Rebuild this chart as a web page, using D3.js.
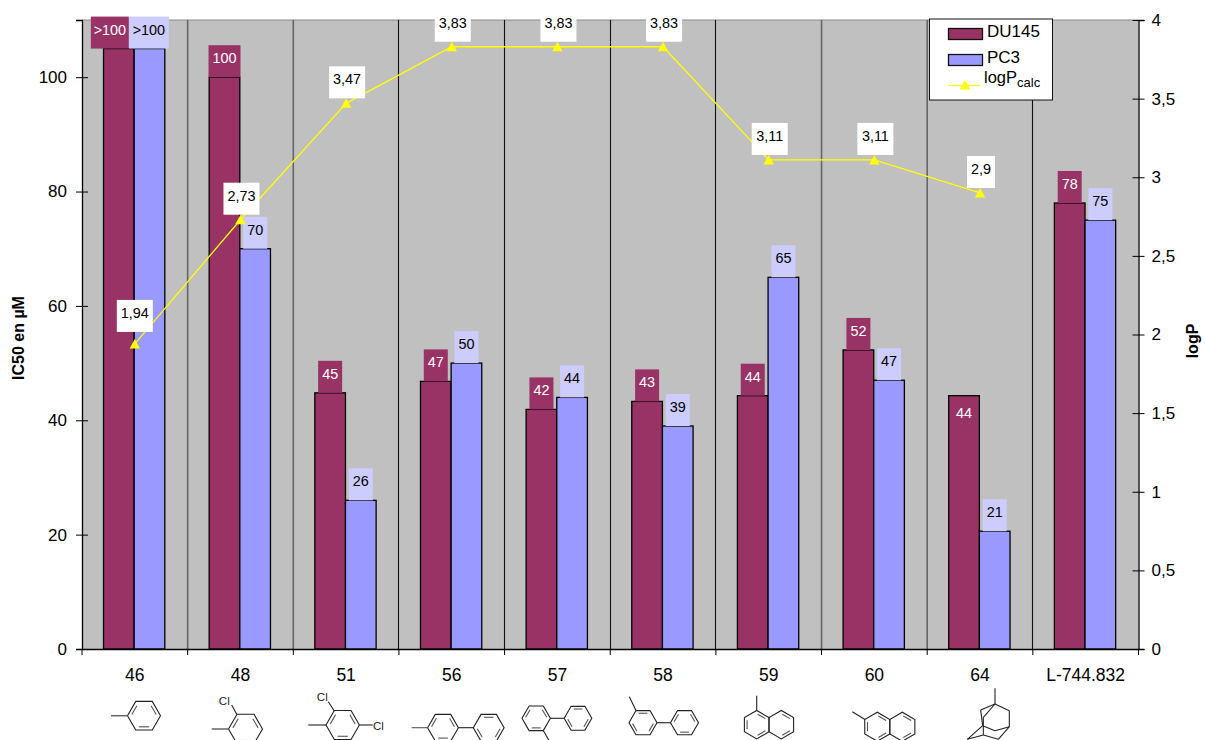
<!DOCTYPE html>
<html><head><meta charset="utf-8">
<script src="https://cdn.jsdelivr.net/npm/d3@7"></script>
<style>html,body{margin:0;padding:0;background:#fff}svg{display:block}text{font-family:"Liberation Sans",Arial,sans-serif}</style>
</head><body><svg id="c" width="1205" height="740"></svg>
<script>
const categories=["46","48","51","56","57","58","59","60","64","L-744.832"];
const seriesNames=["DU145","PC3"];
const du145=[105,100,44.8,46.8,41.9,43.3,44.3,52.3,44.3,78];
const pc3=[105,70,26,50,44,39,65,47,20.6,75];
const du145Labels=[">100","100","45","47","42","43","44","52","44","78"];
const pc3Labels=[">100","70","26","50","44","39","65","47","21","75"];
const logP=[1.94,2.73,3.47,3.83,3.83,3.83,3.11,3.11,2.9];
const logPLabels=["1,94","2,73","3,47","3,83","3,83","3,83","3,11","3,11","2,9"];
const leftTicks=[0,20,40,60,80,100];
const rightTicks=[0,0.5,1,1.5,2,2.5,3,3.5,4];

const M={l:82,r:1138.5,t:20,b:649};
const COL={du:"#993366",duBox:"#993366",pc:"#9999ff",pcBox:"#ccccff",plot:"#c0c0c0",line:"#ffff00"};
const svg=d3.select("#c");
const x=d3.scaleBand().domain(categories).range([M.l,M.r]);
const yL=d3.scaleLinear().domain([0,110]).range([M.b,M.t]);
const yR=d3.scaleLinear().domain([0,4]).range([M.b,M.t]);
const sub=d3.scaleBand().domain(seriesNames).range([x.bandwidth()/2-31.3,x.bandwidth()/2+30]);
const BW=sub.bandwidth();
const cx=c=>x(c)+x.bandwidth()/2;

svg.append("rect").attr("x",M.l).attr("y",M.t).attr("width",M.r-M.l).attr("height",M.b-M.t).attr("fill",COL.plot);
svg.append("line").attr("x1",M.l).attr("x2",M.r).attr("y1",M.t).attr("y2",M.t).attr("stroke","#8c8c8c").attr("stroke-width",1.2);

// vertical gridlines at category borders
const darkGrid=new Set(["56","57","58","59","L-744.832"]);
categories.slice(1).forEach(c=>{
  const d=darkGrid.has(c);
  const xp=d?Math.floor(x(c))+0.5:x(c);
  svg.append("line").attr("x1",xp).attr("x2",xp).attr("y1",M.t).attr("y2",M.b)
    .attr("stroke",d?"#111":"#666").attr("stroke-width",d?1.1:1.6);
});

// bars
const rows=categories.map((c,i)=>({c,i,du:du145[i],pc:pc3[i]}));
const barG=svg.append("g");
barG.selectAll("rect.du").data(rows).join("rect").attr("class","du")
  .attr("x",d=>x(d.c)+sub("DU145")).attr("width",BW).attr("y",d=>yL(d.du)).attr("height",d=>yL(0)-yL(d.du))
  .attr("fill",COL.du).attr("stroke","#000").attr("stroke-width",1.3);
barG.selectAll("rect.pc").data(rows).join("rect").attr("class","pc")
  .attr("x",d=>x(d.c)+sub("PC3")).attr("width",BW).attr("y",d=>yL(d.pc)).attr("height",d=>yL(0)-yL(d.pc))
  .attr("fill",COL.pc).attr("stroke","#000").attr("stroke-width",1.3);

// value label boxes
function valueLabel(cxp,top,txt,box,fg,w){
  const h=32;
  svg.append("rect").attr("x",cxp-w/2).attr("y",top-h).attr("width",w).attr("height",h).attr("fill",box);
  svg.append("text").attr("x",cxp).attr("y",top-h/2+2).attr("text-anchor","middle").attr("font-size",14.4).attr("fill",fg).text(txt);
}
const boxW=t=>t.length>=4?38:t.length==3?32:24;
categories.forEach((c,i)=>{
  const xd=x(c)+sub("DU145")+BW/2, xp=x(c)+sub("PC3")+BW/2;
  const duShift=i==0?-9:0, duDrop=i==8?36:0;
  valueLabel(xd+duShift,yL(du145[i])+duDrop,du145Labels[i],COL.duBox,"#fff",boxW(du145Labels[i]));
  valueLabel(xp-(i==0?0.6:0),yL(pc3[i]),pc3Labels[i],COL.pcBox,"#000",boxW(pc3Labels[i])+(i==0?2:0));
});

// logP line
const line=d3.line().x((d,i)=>cx(categories[i])).y(d=>yR(d));
svg.append("path").attr("d",line(logP)).attr("fill","none").attr("stroke",COL.line).attr("stroke-width",1.3);
const tri=(px,py)=>`M${px},${py-5}L${px+5.2},${py+4.5}L${px-5.2},${py+4.5}Z`;
logP.forEach((v,i)=>svg.append("path").attr("d",tri(cx(categories[i]),yR(v))).attr("fill",COL.line));
const logGap=[12,5,5,5,5,5,5,5,5];
const logShift=[0,1,1,1,1,1,1,1,1];
logP.forEach((v,i)=>{
  const t=logPLabels[i],w=t.length==3?28:36,h=32,px=cx(categories[i])+logShift[i];
  const bottom=yR(v)-logGap[i];
  svg.append("rect").attr("x",px-w/2).attr("y",bottom-h).attr("width",w).attr("height",h).attr("fill","#fff");
  svg.append("text").attr("x",px).attr("y",bottom-h/2+2).attr("text-anchor","middle").attr("font-size",14.4).attr("fill","#000").text(t);
});

// axes
const comma=v=>String(v).replace(".",",");
const gL=svg.append("g").attr("transform",`translate(${M.l},0)`).call(d3.axisLeft(yL).tickValues(leftTicks).tickSize(6).tickPadding(8));
const gR=svg.append("g").attr("transform",`translate(${M.r},0)`).call(d3.axisRight(yR).tickValues(rightTicks).tickFormat(comma).tickSize(6).tickPadding(7));
const gB=svg.append("g").attr("transform",`translate(0,${M.b})`).call(d3.axisBottom(x).tickValues([]).tickSize(0));
[gL,gR,gB].forEach(g=>{
  g.select(".domain").attr("stroke","#000").attr("stroke-width",1.3);
  g.selectAll("text").attr("font-size",17).attr("fill","#000").style("font-family",'"Liberation Sans",Arial,sans-serif');
  g.selectAll(".tick line").attr("stroke","#000").attr("stroke-width",1);
});
gL.selectAll(".tick line").attr("x1",-6).attr("x2",6);
gR.selectAll(".tick line").attr("x1",-6).attr("x2",6);
gL.selectAll(".tick text").attr("x",-15);
gR.selectAll(".tick text").attr("x",13);
categories.forEach((c,i)=>{
  const b=x(c);
  gB.append("line").attr("x1",b).attr("x2",b).attr("y1",0).attr("y2",6).attr("stroke","#000");
  gB.append("text").attr("x",cx(c)).attr("y",31.5).attr("text-anchor","middle").attr("font-size",17.5).attr("fill","#000").text(c);
});
gB.append("line").attr("x1",M.r).attr("x2",M.r).attr("y1",0).attr("y2",6).attr("stroke","#000");

svg.append("text").attr("transform","translate(24,338) rotate(-90)").attr("text-anchor","middle").attr("font-size",16).attr("font-weight","bold").text("IC50 en µM");
svg.append("text").attr("transform","translate(1198,341) rotate(-90)").attr("text-anchor","middle").attr("font-size",16).attr("font-weight","bold").text("logP");

// legend
const lg=svg.append("g");
lg.append("rect").attr("x",929.5).attr("y",19).attr("width",123).attr("height",81).attr("fill","#fff").attr("stroke","#111").attr("stroke-width",1);
[[COL.du,28,"DU145",37],[COL.pc,54,"PC3",63]].forEach(([f,y,t,ty])=>{
  lg.append("rect").attr("x",948.5).attr("y",y+.5).attr("width",34).attr("height",11).attr("fill",f).attr("stroke","#111").attr("stroke-width",1.3);
  lg.append("text").attr("x",987).attr("y",ty).attr("font-size",17).text(t);
});
lg.append("line").attr("x1",948).attr("x2",980).attr("y1",85.5).attr("y2",85.5).attr("stroke",COL.line).attr("stroke-width",1.2);
lg.append("path").attr("d",tri(965,85)).attr("fill",COL.line);
const lt=lg.append("text").attr("x",984).attr("y",83).attr("font-size",16.5);
lt.append("tspan").text("logP");
lt.append("tspan").attr("font-size",13).attr("dy",4).text("calc");

// chemical structures
const mol=svg.append("g").attr("fill","none").attr("stroke","#222").attr("stroke-width",1.1);
const seg=(a,b,c,d)=>mol.append("line").attr("x1",a).attr("y1",b).attr("x2",c).attr("y2",d);
function ring(cxp,cyp,r,dbl,rot=0){
  const v=d3.range(6).map(i=>{const t=(rot+i*60)*Math.PI/180;return [cxp+r*Math.cos(t),cyp+r*Math.sin(t)];});
  mol.append("path").attr("d",d3.line()(v)+"Z");
  dbl.forEach(e=>{
    const a=v[e],b=v[(e+1)%6],k=0.78;
    const p=q=>[cxp+(q[0]-cxp)*k,cyp+(q[1]-cyp)*k];
    const A=p(a),B=p(b);
    const ax=A[0]+(B[0]-A[0])*.1,ay=A[1]+(B[1]-A[1])*.1,bx=B[0]-(B[0]-A[0])*.1,by=B[1]-(B[1]-A[1])*.1;
    seg(ax,ay,bx,by).attr("stroke","#555");
  });
}
const cl=(px,py)=>svg.append("text").attr("x",px).attr("y",py).attr("text-anchor","middle").attr("font-size",11.5).attr("fill","#222").text("Cl");
// 46
ring(144,715.7,16.5,[3,1,5]); seg(111,715.7,127.5,715.7).attr("stroke","#666").attr("stroke-width",1.5);
// 48
ring(245.5,729,17,[3,1,5]); seg(211.7,729,228.5,729).attr("stroke","#666").attr("stroke-width",1.5); seg(236.7,714.3,231.7,705); cl(224.3,704.5);
// 51
ring(342.7,725,16.7,[3,1,5]); seg(308.3,725,326,725); seg(334.3,711,328.3,701.7); seg(359.4,725,372.7,725); cl(322.3,701); cl(378.5,730);
// 56
ring(443,727.7,15.4,[3,5,1]); seg(411.7,727.7,427.6,727.7).attr("stroke","#555"); seg(458.4,727.7,473.3,727.7); ring(488.7,727.7,15.4,[4,0,2]);
// 57
ring(536.2,718.3,14.2,[1,3,5]); ring(578,718.3,13.8,[4,0,2]); seg(550.4,718.3,564.2,718.3); seg(543.3,730.6,549,740.5);
// 58
ring(643,722.7,14,[4,2,0]); ring(684.5,722.7,14,[5,3,1]); seg(657,722.7,670.5,722.7); seg(636,710.6,629.3,696.7);
// 59
ring(756.7,724.7,14.2,[2,0,4],30); ring(781.3,724.7,14.2,[4,0],30); seg(756.7,710.5,756.7,695.7);
// 60
ring(877.3,726.7,14.5,[2,4,0],30); ring(902.3,726.7,14.5,[4,0],30); seg(865,719.5,852.3,711.7);
// 64 adamantane
const P=(a,b)=>[720+a/3,680+b/3];
[[[825,25],[825,72]],[[825,72],[782,90]],[[825,72],[868,92]],[[868,92],[868,140]],[[825,72],[790,112]],[[790,112],[790,165]],
 [[782,90],[788,137]],[[788,137],[825,152]],[[825,152],[868,140]],[[790,165],[742,178]],[[788,137],[742,178]],[[790,165],[835,178]],[[868,140],[835,178]]]
 .forEach(([a,b])=>{const A=P(...a),B=P(...b);seg(A[0],A[1],B[0],B[1]);});
</script></body></html>
